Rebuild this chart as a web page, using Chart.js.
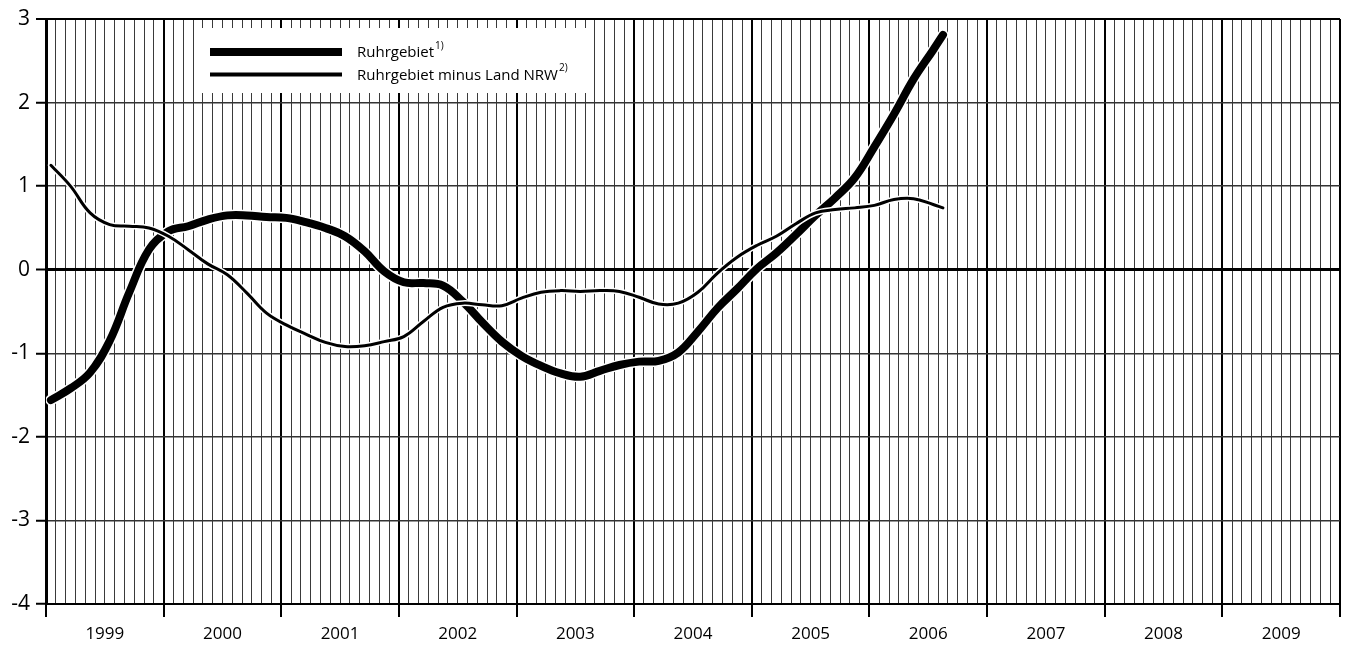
<!DOCTYPE html>
<html>
<head>
<meta charset="utf-8">
<script src="https://cdn.jsdelivr.net/npm/chart.js@4/dist/chart.umd.min.js"></script>
<style>
  body { margin: 0; background: #fff; }
  canvas { display: block; }
</style>
</head>
<body>
<canvas id="chart" width="1350" height="649"></canvas>
<script>
// months counted from January 1999 (0 = Jan 1999)
const months = [0, 2, 4, 6, 8, 10, 12, 14, 16, 18, 20, 22, 24, 26, 28, 30, 32, 34, 36, 38, 40,
    42, 44, 46, 48, 50, 52, 54, 56, 58, 60, 62, 64, 66, 68, 70, 72, 74, 76, 78, 80, 82, 84, 86, 88, 90, 91];

const ruhrgebiet = [-1.56, -1.42, -1.23, -0.85, -0.27, 0.24, 0.46, 0.52, 0.60, 0.65, 0.65, 0.63, 0.62, 0.57,
    0.50, 0.40, 0.22, -0.02, -0.15, -0.16, -0.19, -0.38, -0.63, -0.86, -1.03, -1.15, -1.24, -1.28, -1.21,
    -1.14, -1.10, -1.09, -0.99, -0.74, -0.46, -0.23, 0.01, 0.20, 0.42, 0.65, 0.86, 1.10, 1.47, 1.86, 2.28, 2.63, 2.81];

const minusNrw = [1.25, 1.00, 0.68, 0.54, 0.52, 0.50, 0.40, 0.24, 0.07, -0.06, -0.28, -0.52, -0.66, -0.77,
    -0.87, -0.92, -0.91, -0.86, -0.80, -0.62, -0.45, -0.40, -0.42, -0.43, -0.34, -0.27, -0.25, -0.26, -0.25,
    -0.26, -0.33, -0.41, -0.40, -0.27, -0.04, 0.15, 0.29, 0.40, 0.55, 0.68, 0.72, 0.74, 0.77, 0.84, 0.85, 0.78, 0.74];

const years = ['1999', '2000', '2001', '2002', '2003', '2004', '2005', '2006', '2007', '2008', '2009'];

const legendItems = [
    { label: 'Ruhrgebiet', note: '1)', width: 8 },
    { label: 'Ruhrgebiet minus Land NRW', note: '2)', width: 4 }
];

const FONT = '"Open Sans", "Noto Sans", sans-serif';

function toPoints(values) {
    // plot each monthly value in the middle of its month
    return values.map((v, i) => ({ x: months[i] + 0.5, y: v }));
}

function lineSet(values, color, width, order) {
    return {
        data: toPoints(values),
        borderColor: color,
        borderWidth: width,
        borderCapStyle: 'round',
        borderJoinStyle: 'round',
        pointRadius: 0,
        tension: 0.4,
        fill: false,
        order: order
    };
}

// white box with the legend, drawn over the grid
const legendBox = {
    id: 'legendBox',
    beforeDatasetsDraw(chart) {
        const ctx = chart.ctx;
        const area = chart.chartArea;
        const left = area.left + 150;
        const top = area.top + 9;
        ctx.save();
        ctx.fillStyle = '#fff';
        ctx.fillRect(left, top, 396, 65);
        legendItems.forEach((item, i) => {
            const y = top + 24 + i * 22.5;
            ctx.strokeStyle = '#000';
            ctx.lineWidth = item.width;
            ctx.beginPath();
            ctx.moveTo(left + 14, y);
            ctx.lineTo(left + 146, y);
            ctx.stroke();
            ctx.fillStyle = '#000';
            ctx.textBaseline = 'middle';
            ctx.font = '15px ' + FONT;
            ctx.fillText(item.label, left + 161, y + 1);
            const w = ctx.measureText(item.label).width;
            ctx.font = '10px ' + FONT;
            ctx.fillText(item.note, left + 162 + w, y - 6);
        });
        ctx.restore();
    }
};

new Chart(document.getElementById('chart'), {
    type: 'line',
    data: {
        datasets: [
            lineSet(minusNrw, '#000', 3, 0),
            lineSet(minusNrw, '#fff', 6, 1),
            lineSet(ruhrgebiet, '#000', 8, 2),
            lineSet(ruhrgebiet, '#fff', 11, 3)
        ]
    },
    options: {
        responsive: false,
        animation: false,
        layout: { padding: { top: 19, right: 10, left: 0, bottom: 0 } },
        plugins: {
            legend: { display: false },
            tooltip: { enabled: false }
        },
        scales: {
            x: {
                type: 'linear',
                min: 0,
                max: 132,
                afterFit: s => { s.height = 45; },
                border: { display: true, color: '#000', width: 2 },
                grid: {
                    color: c => c.tick.value % 12 === 0 ? '#000' : '#3a3a3a',
                    lineWidth: c => c.tick.value % 12 === 0 ? 2 : 1,
                    tickLength: 13,
                    tickColor: c => c.tick.value % 12 === 0 ? '#000' : 'rgba(0,0,0,0)',
                    tickWidth: 2
                },
                ticks: {
                    stepSize: 1,
                    maxTicksLimit: 1000,
                    autoSkip: false,
                    maxRotation: 0,
                    padding: 7,
                    color: '#000',
                    font: { family: FONT, size: 17 },
                    callback: v => v % 12 === 6 ? years[(v - 6) / 12] : ''
                }
            },
            y: {
                min: -4,
                max: 3,
                afterFit: s => { s.width = 46; },
                border: { display: true, color: '#000', width: 3 },
                grid: {
                    color: c => c.tick.value === 0 || c.tick.value === 3 ? '#000' : '#333',
                    lineWidth: c => c.tick.value === 0 ? 3 : (c.tick.value === 3 ? 2 : 1.5),
                    tickLength: 10,
                    tickColor: '#000',
                    tickWidth: 2
                },
                ticks: {
                    stepSize: 1,
                    padding: 6,
                    color: '#000',
                    font: { family: FONT, size: 21 }
                }
            }
        }
    },
    plugins: [legendBox]
});
</script>
</body>
</html>
